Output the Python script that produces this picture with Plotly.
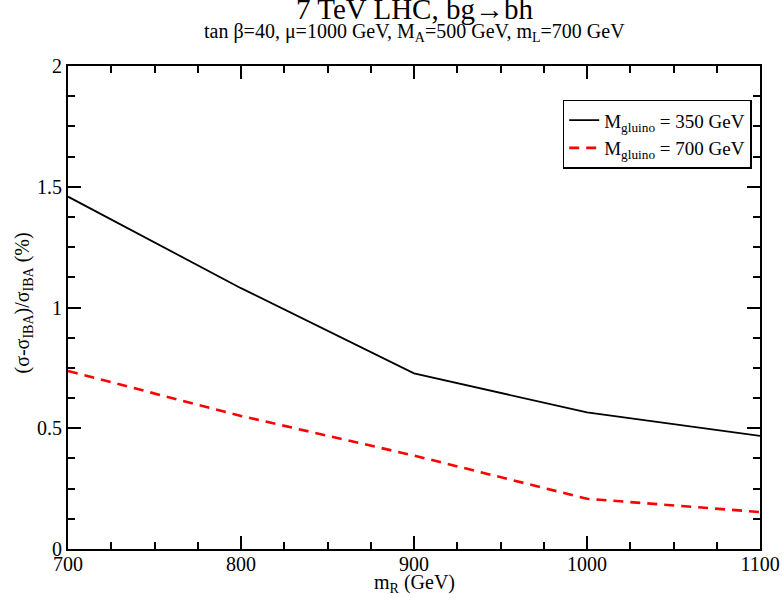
import plotly.graph_objects as go

m_R = [700, 800, 900, 1000, 1100]
gluino_350 = [1.459, 1.08, 0.727, 0.566, 0.468]
gluino_700 = [0.737, 0.551, 0.387, 0.208, 0.153]
series_names = ["M<sub>gluino</sub> = 350 GeV", "M<sub>gluino</sub> = 700 GeV"]
title_text = "7 TeV LHC, bg→bh"
subtitle_text = "tan β=40, μ=1000 GeV, M<sub>A</sub>=500 GeV, m<sub>L</sub>=700 GeV"
x_title = "m<sub>R</sub> (GeV)"
y_title = "(σ-σ<sub>IBA</sub>)/σ<sub>IBA</sub> (%)"

FONT = "Liberation Serif"

fig = go.Figure()
fig.add_trace(go.Scatter(x=m_R, y=gluino_350, mode="lines", name=series_names[0],
                         line=dict(color="black", width=1.8)))
fig.add_trace(go.Scatter(x=m_R, y=gluino_700, mode="lines", name=series_names[1],
                         line=dict(color="#ff0000", width=2.6, dash="10px,7px")))

axis_common = dict(
    showgrid=False, zeroline=False, showline=True, linecolor="black", linewidth=2,
    mirror="allticks", ticks="inside", ticklen=13, tickwidth=2, tickcolor="black",
    tickfont=dict(family=FONT, size=20, color="black"), automargin=False,
    ticklabeloverflow="allow",
)

fig.update_xaxes(range=[700, 1100], tickmode="linear", tick0=700, dtick=100,
                 minor=dict(ticks="inside", ticklen=7, tickwidth=2, tickcolor="black", dtick=25, showgrid=False),
                 ticklabelstandoff=-4,
                 **axis_common)
fig.update_yaxes(range=[0, 2], tickmode="linear", tick0=0, dtick=0.5,
                 minor=dict(ticks="inside", ticklen=7, tickwidth=2, tickcolor="black", dtick=0.125, showgrid=False),
                 **axis_common)

fig.update_layout(
    width=782, height=607,
    margin=dict(l=68, r=22, t=66, b=58),
    paper_bgcolor="white", plot_bgcolor="white",
    font=dict(family=FONT, color="black"),
    annotations=[
        dict(text=title_text, xref="paper", yref="paper", x=0.5, y=1.0, yshift=57,
             xanchor="center", yanchor="middle", showarrow=False,
             font=dict(family=FONT, size=29, color="black")),
        dict(text=subtitle_text, xref="paper", yref="paper", x=0.5, y=1.0, yshift=34,
             xanchor="center", yanchor="middle", showarrow=False,
             font=dict(family=FONT, size=20, color="black")),
        dict(text=x_title, xref="paper", yref="paper", x=0.5, y=0.0, yshift=-34,
             xanchor="center", yanchor="middle", showarrow=False,
             font=dict(family=FONT, size=20, color="black")),
        dict(text=y_title, xref="paper", yref="paper", x=0.0, y=0.5, xshift=-45, yshift=4,
             xanchor="center", yanchor="middle", showarrow=False, textangle=-90,
             font=dict(family=FONT, size=20, color="black")),
    ],
    legend=dict(
        x=0.988, y=0.93, xanchor="right", yanchor="top",
        bordercolor="black", borderwidth=1.5, bgcolor="white",
        font=dict(family=FONT, size=19, color="black"),
        tracegroupgap=0, itemwidth=30,
    ),
    showlegend=True,
)

# remove the browser's default 8px body margin so the figure fills the window
fig.write_html("out.html", config={"displayModeBar": False},
               post_script="document.body.style.margin='0';document.body.style.overflow='hidden';")
